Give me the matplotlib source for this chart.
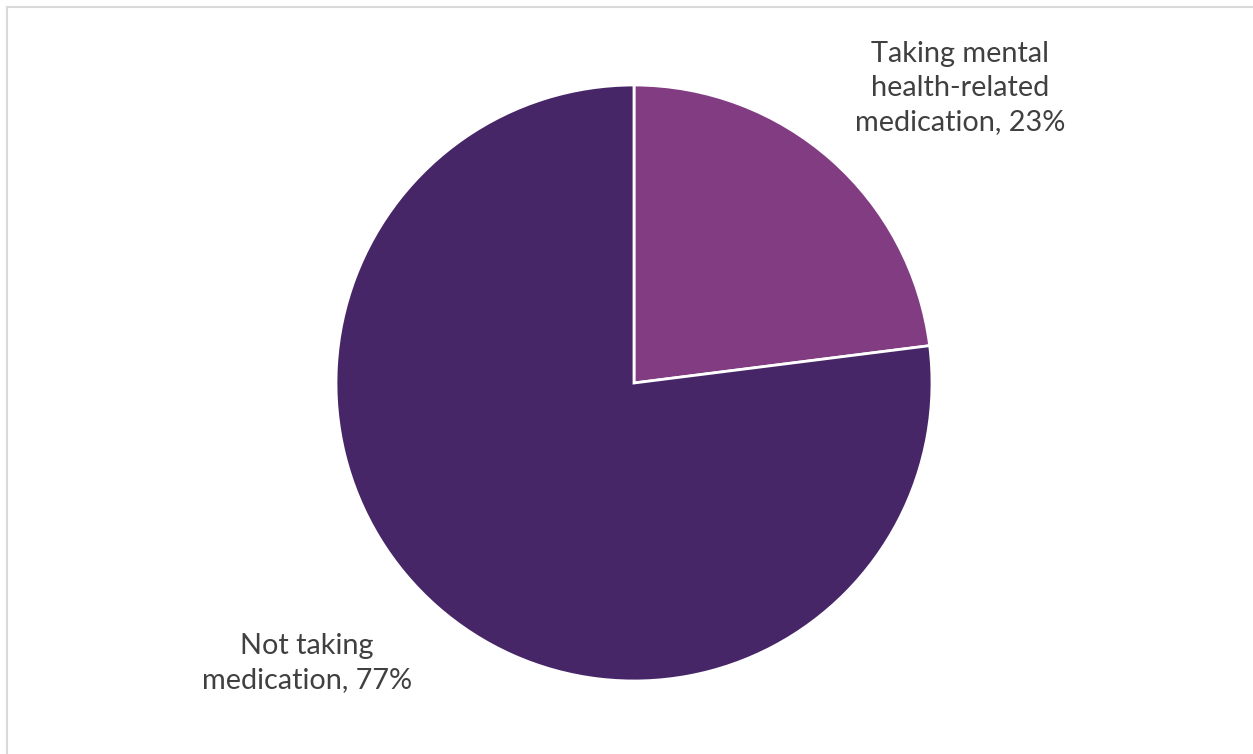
import matplotlib.pyplot as plt
from matplotlib.lines import Line2D

labels = ['Taking mental\nhealth-related\nmedication', 'Not taking\nmedication']
shares = [23, 77]
colors = ['#823d82', '#472668']

plt.rcParams['font.family'] = ['Lato', 'DejaVu Sans']

W, H = 1253, 754
fig = plt.figure(figsize=(W / 100, H / 100), dpi=100)

# pie centred at (634, 383) px with radius 298 px
cx, cy, r = 634, 383, 298
ax = fig.add_axes([(cx - r) / W, (H - cy - r) / H, 2 * r / W, 2 * r / H])
wedges, _ = ax.pie(shares, colors=colors, startangle=90, counterclock=False,
                   radius=1, wedgeprops=dict(edgecolor='white', linewidth=2))
ax.set_xlim(-1, 1)
ax.set_ylim(-1, 1)
ax.set_aspect('equal')

label_pos = [(1.094, 0.99), (-1.097, -0.94)]
for lab, val, (x, y) in zip(labels, shares, label_pos):
    ax.text(x, y, f'{lab}, {val}%', ha='center', va='center', fontsize=20.8,
            color='#404040', linespacing=1.4)

# chart area frame, top and left edges
frame = dict(color='#d9d9d9', linewidth=1.5)
fig.add_artist(Line2D([7 / W, 1], [1 - 7 / H, 1 - 7 / H], transform=fig.transFigure, **frame))
fig.add_artist(Line2D([7 / W, 7 / W], [0, 1 - 7 / H], transform=fig.transFigure, **frame))

fig.savefig('out.png', dpi=100)
